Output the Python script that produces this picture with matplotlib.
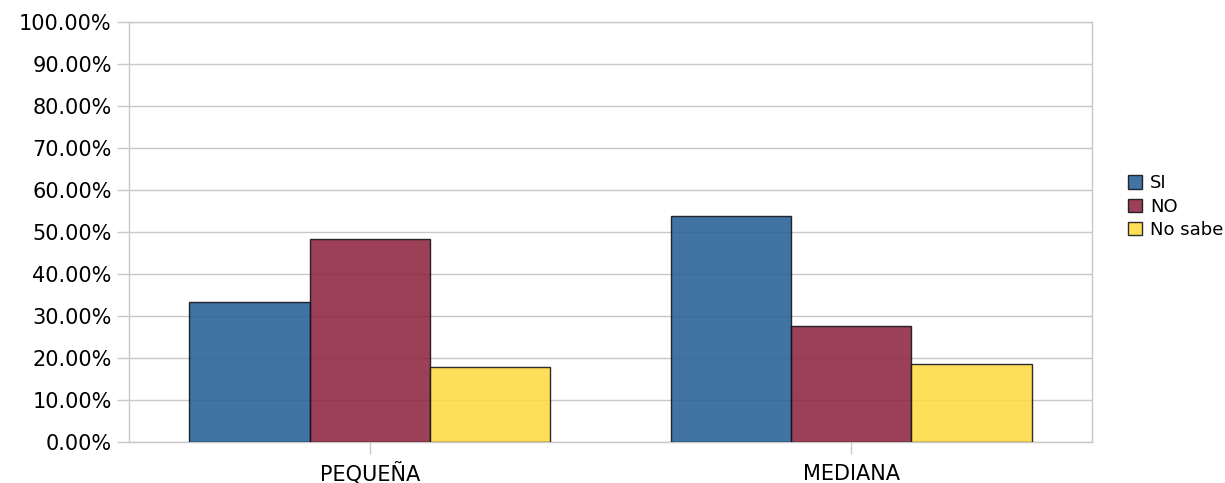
import numpy as np
import matplotlib
matplotlib.use('Agg')
from matplotlib import pyplot as plt
from matplotlib.ticker import FuncFormatter

# Survey answers by company size
categories = ['PEQUEÑA', 'MEDIANA']
series = ['SI', 'NO', 'No sabe']
si = [33.33, 53.85]
no = [48.33, 27.69]
no_sabe = [17.86, 18.46]

# slightly see-through fills so the grid shows through the bars
colors = ['#266096', '#8d253e', '#ffda42']
grid_gray = '#c8c8c8'

fig = plt.figure(figsize=(12.25, 4.83), dpi=100)
ax = fig.add_axes([0.1053, 0.0849, 0.7861, 0.8696])

x = np.arange(len(categories))
w = 0.25
for i, (vals, lab) in enumerate(zip([si, no, no_sabe], series)):
    ax.bar(x + (i - 1) * w, vals, w, color=colors[i], alpha=0.88, label=lab,
           edgecolor='#10101a', linewidth=1, zorder=3)

ax.set_xlim(-0.5, 1.5)
ax.set_ylim(0, 100)
ax.set_yticks(np.arange(0, 101, 10))
ax.yaxis.set_major_formatter(FuncFormatter(lambda v, p: '%.2f%%' % v))
ax.set_xticks(x)
ax.set_xticklabels(categories, va='baseline')

ax.grid(axis='y', color=grid_gray, linewidth=1, zorder=0)
for s in ax.spines.values():
    s.set_color(grid_gray)
    s.set_linewidth(1)
ax.tick_params(axis='both', colors=grid_gray, labelcolor='black',
               labelsize=15, length=8.5, width=1)
ax.tick_params(axis='y', pad=4)
ax.tick_params(axis='x', pad=19)

fig.legend(loc='center left', bbox_to_anchor=(0.915, 0.572), frameon=False,
           fontsize=13, handlelength=0.75, handleheight=0.75,
           handletextpad=0.45, labelspacing=0.3, borderaxespad=0)

plt.savefig('out.png', dpi=100)
